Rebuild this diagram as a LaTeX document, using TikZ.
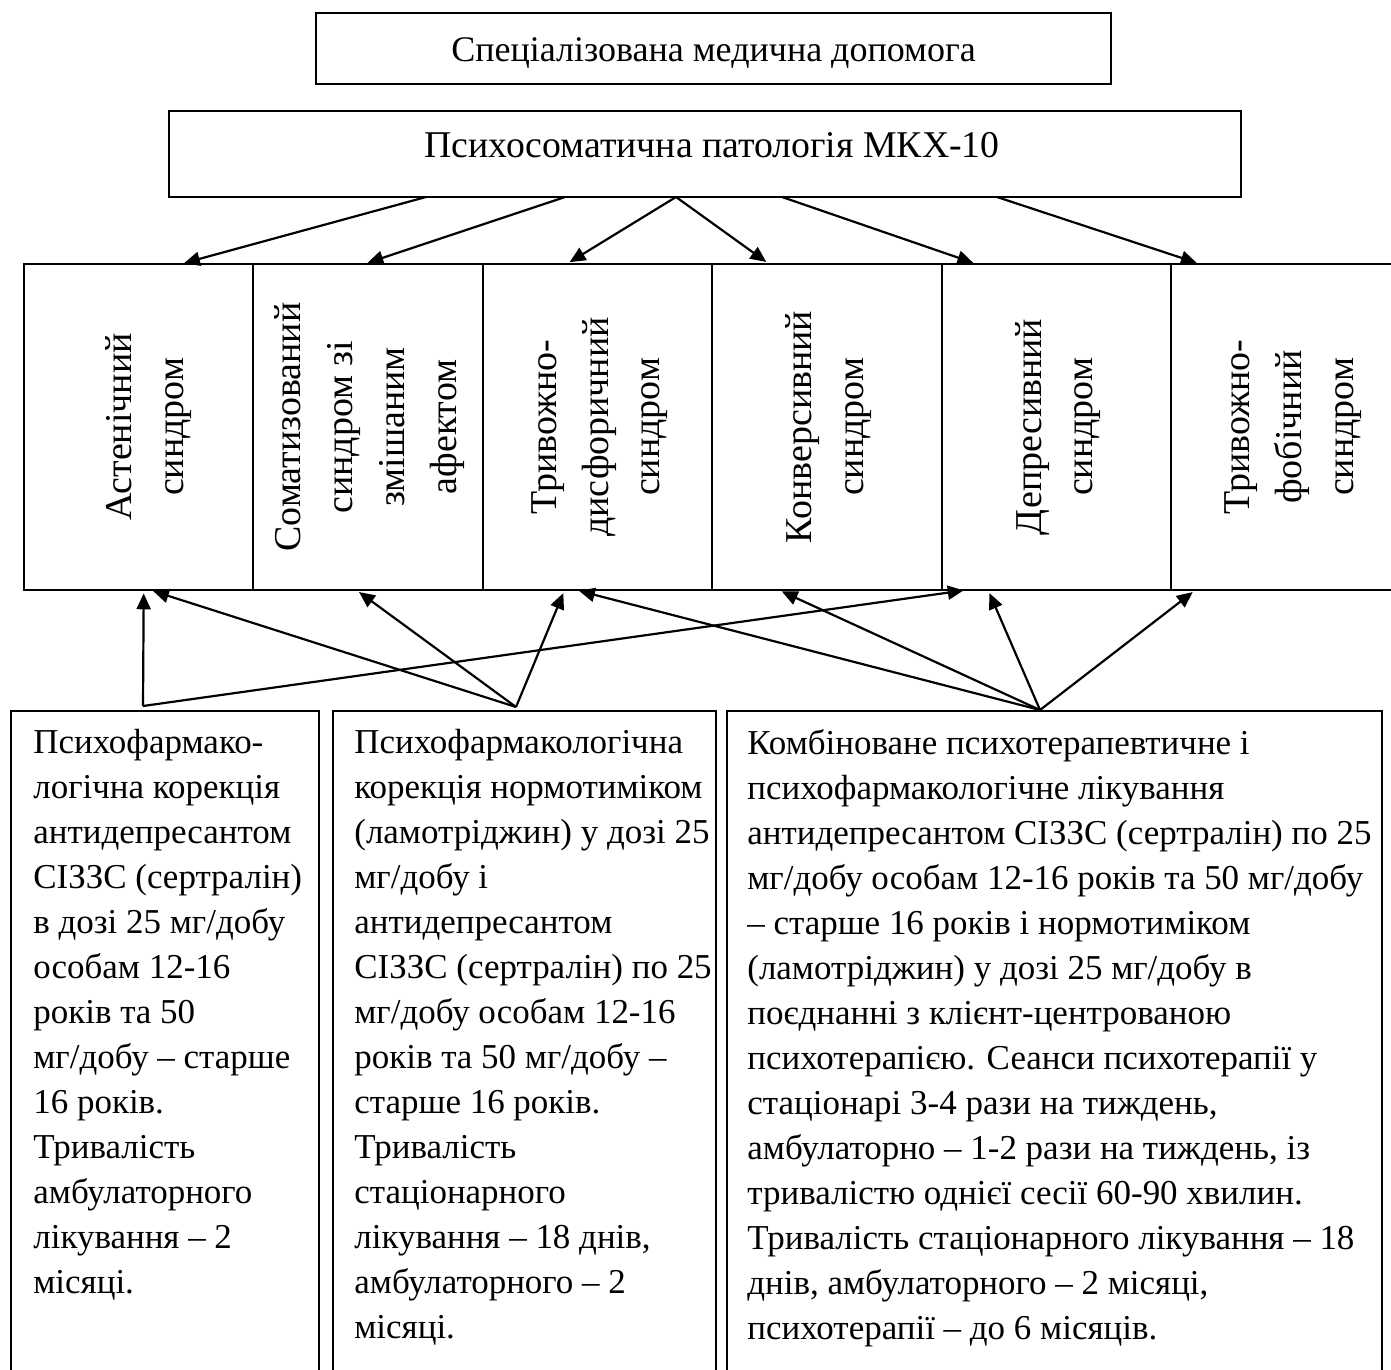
\documentclass[tikz,border=0pt]{standalone}
\usepackage{fontspec}
\setmainfont{Liberation Serif}
\usepackage{graphicx}
\usetikzlibrary{arrows.meta,positioning}

% rotated, centred lines for the syndrome boxes
\newcommand{\vtext}[1]{\rotatebox{90}{\begin{tabular}{@{}c@{}}#1\end{tabular}}}

\begin{document}
\begin{tikzpicture}[x=0.02cm, y=-0.02cm,
    frame/.style={draw, line width=1.1pt, inner sep=0pt, outer sep=0pt},
    synd/.style={frame, minimum width=4.59cm, minimum height=6.52cm, font=\fontsize{21.6}{29.5}\selectfont},
    txt/.style={align=left, inner sep=0pt, anchor=north west, font=\fontsize{19.9}{25.6}\selectfont},
    arr/.style={line width=1.25pt, -{Triangle[length=9pt,width=8pt]}, shorten >=2pt}]
    \useasboundingbox (0,0) rectangle (1391,1369);
    \clip (0,0) rectangle (1391,1369);

    % top
    \node[frame, minimum width=15.9cm, text height=0.96cm, text depth=0.46cm, anchor=base, font=\fontsize{20.5}{25}\selectfont] (spec) at (713.5,61) {Спеціалізована медична допомога};
    \node[frame, minimum width=21.44cm, text height=0.92cm, text depth=0.8cm, anchor=base, font=\fontsize{21.5}{26}\selectfont] (pat) at (705,157) {\hspace*{0.28cm}Психосоматична патологія МКХ-10};

    % syndromes
    \node[synd, anchor=north west] (ast) at (24,264) {\hspace*{0.32cm}\vtext{Астенічний\\синдром}};
    \node[synd, right=0pt of ast] (som) {\vtext{Соматизований\\синдром зі\\змішаним\\афектом}};
    \node[synd, right=0pt of som] (dys) {\vtext{Тривожно-\\дисфоричний\\синдром}};
    \node[synd, right=0pt of dys] (kon) {\vtext{Конверсивний\\синдром}};
    \node[synd, right=0pt of kon] (dep) {\vtext{Депресивний\\синдром}};
    \node[synd, right=0pt of dep] (fob) {\hspace*{0.2cm}\vtext{Тривожно-\\фобічний\\синдром}};

    \draw[arr] ([xshift=-5.58cm]pat.south) -- ([xshift=0.84cm]ast.north);
    \draw[arr] ([xshift=-2.80cm]pat.south) -- ([xshift=-0.08cm]som.north);
    \draw[arr] ([xshift=-0.58cm]pat.south) -- ([xshift=-0.62cm]dys.north);
    \draw[arr] ([xshift=-0.58cm]pat.south) -- ([xshift=-1.16cm]kon.north);
    \draw[arr] ([xshift=1.54cm]pat.south) -- ([xshift=-1.60cm]dep.north);
    \draw[arr] ([xshift=5.84cm]pat.south) -- ([xshift=-1.72cm]fob.north);

    % treatment
    \node[frame, anchor=north west, minimum width=6.16cm, minimum height=14cm] (fA) at (11,711) {};
    \node[frame, anchor=north west, minimum width=7.66cm, minimum height=14cm] (fB) at (333,711) {};
    \node[frame, anchor=north west, minimum width=13.1cm, minimum height=14cm] (fC) at (727,711) {};

    \node[txt] (tA) at (33,729) {Психофармако-\\логічна корекція\\антидепресантом\\СІЗЗС (сертралін)\\в дозі 25 мг/добу\\особам 12-16\\років та 50\\мг/добу – старше\\16 років.\\Тривалість\\амбулаторного\\лікування – 2\\місяці.};
    \node[txt] (tB) at (354,729) {Психофармакологічна\\корекція нормотиміком\\(ламотріджин) у дозі 25\\мг/добу і\\антидепресантом\\СІЗЗС (сертралін) по 25\\мг/добу особам 12-16\\років та 50 мг/добу –\\старше 16 років.\\Тривалість\\стаціонарного\\лікування – 18 днів,\\амбулаторного – 2\\місяці.};
    \node[txt] (tC) at (747,729) {Комбіноване психотерапевтичне і\\психофармакологічне лікування\\антидепресантом СІЗЗС (сертралін) по 25\\мг/добу особам 12-16 років та 50 мг/добу\\– старше 16 років і нормотиміком\\(ламотріджин) у дозі 25 мг/добу в\\поєднанні з клієнт-центрованою\\психотерапією. Сеанси психотерапії у\\стаціонарі 3-4 рази на тиждень,\\амбулаторно – 1-2 рази на тиждень, із\\тривалістю однієї сесії 60-90 хвилин.\\Тривалість стаціонарного лікування – 18\\днів, амбулаторного – 2 місяці,\\психотерапії – до 6 місяців.};

    \coordinate (sA) at (143,706);
    \coordinate (sB) at (516,707);
    \coordinate (sC) at (1040,710);

    \draw[arr] (sA) -- ([xshift=0.10cm]ast.south);
    \draw[arr] (sA) -- ([xshift=-1.79cm]dep.south);
    \draw[arr] (sB) -- ([xshift=0.22cm]ast.south);
    \draw[arr] (sB) -- ([xshift=-0.24cm]som.south);
    \draw[arr] (sB) -- ([xshift=-0.66cm]dys.south);
    \draw[arr] (sC) -- ([xshift=-0.44cm]dys.south);
    \draw[arr] (sC) -- ([xshift=-0.97cm]kon.south);
    \draw[arr] (sC) -- ([xshift=-1.37cm]dep.south);
    \draw[arr] (sC) -- ([xshift=-1.81cm]fob.south);
\end{tikzpicture}
\end{document}
